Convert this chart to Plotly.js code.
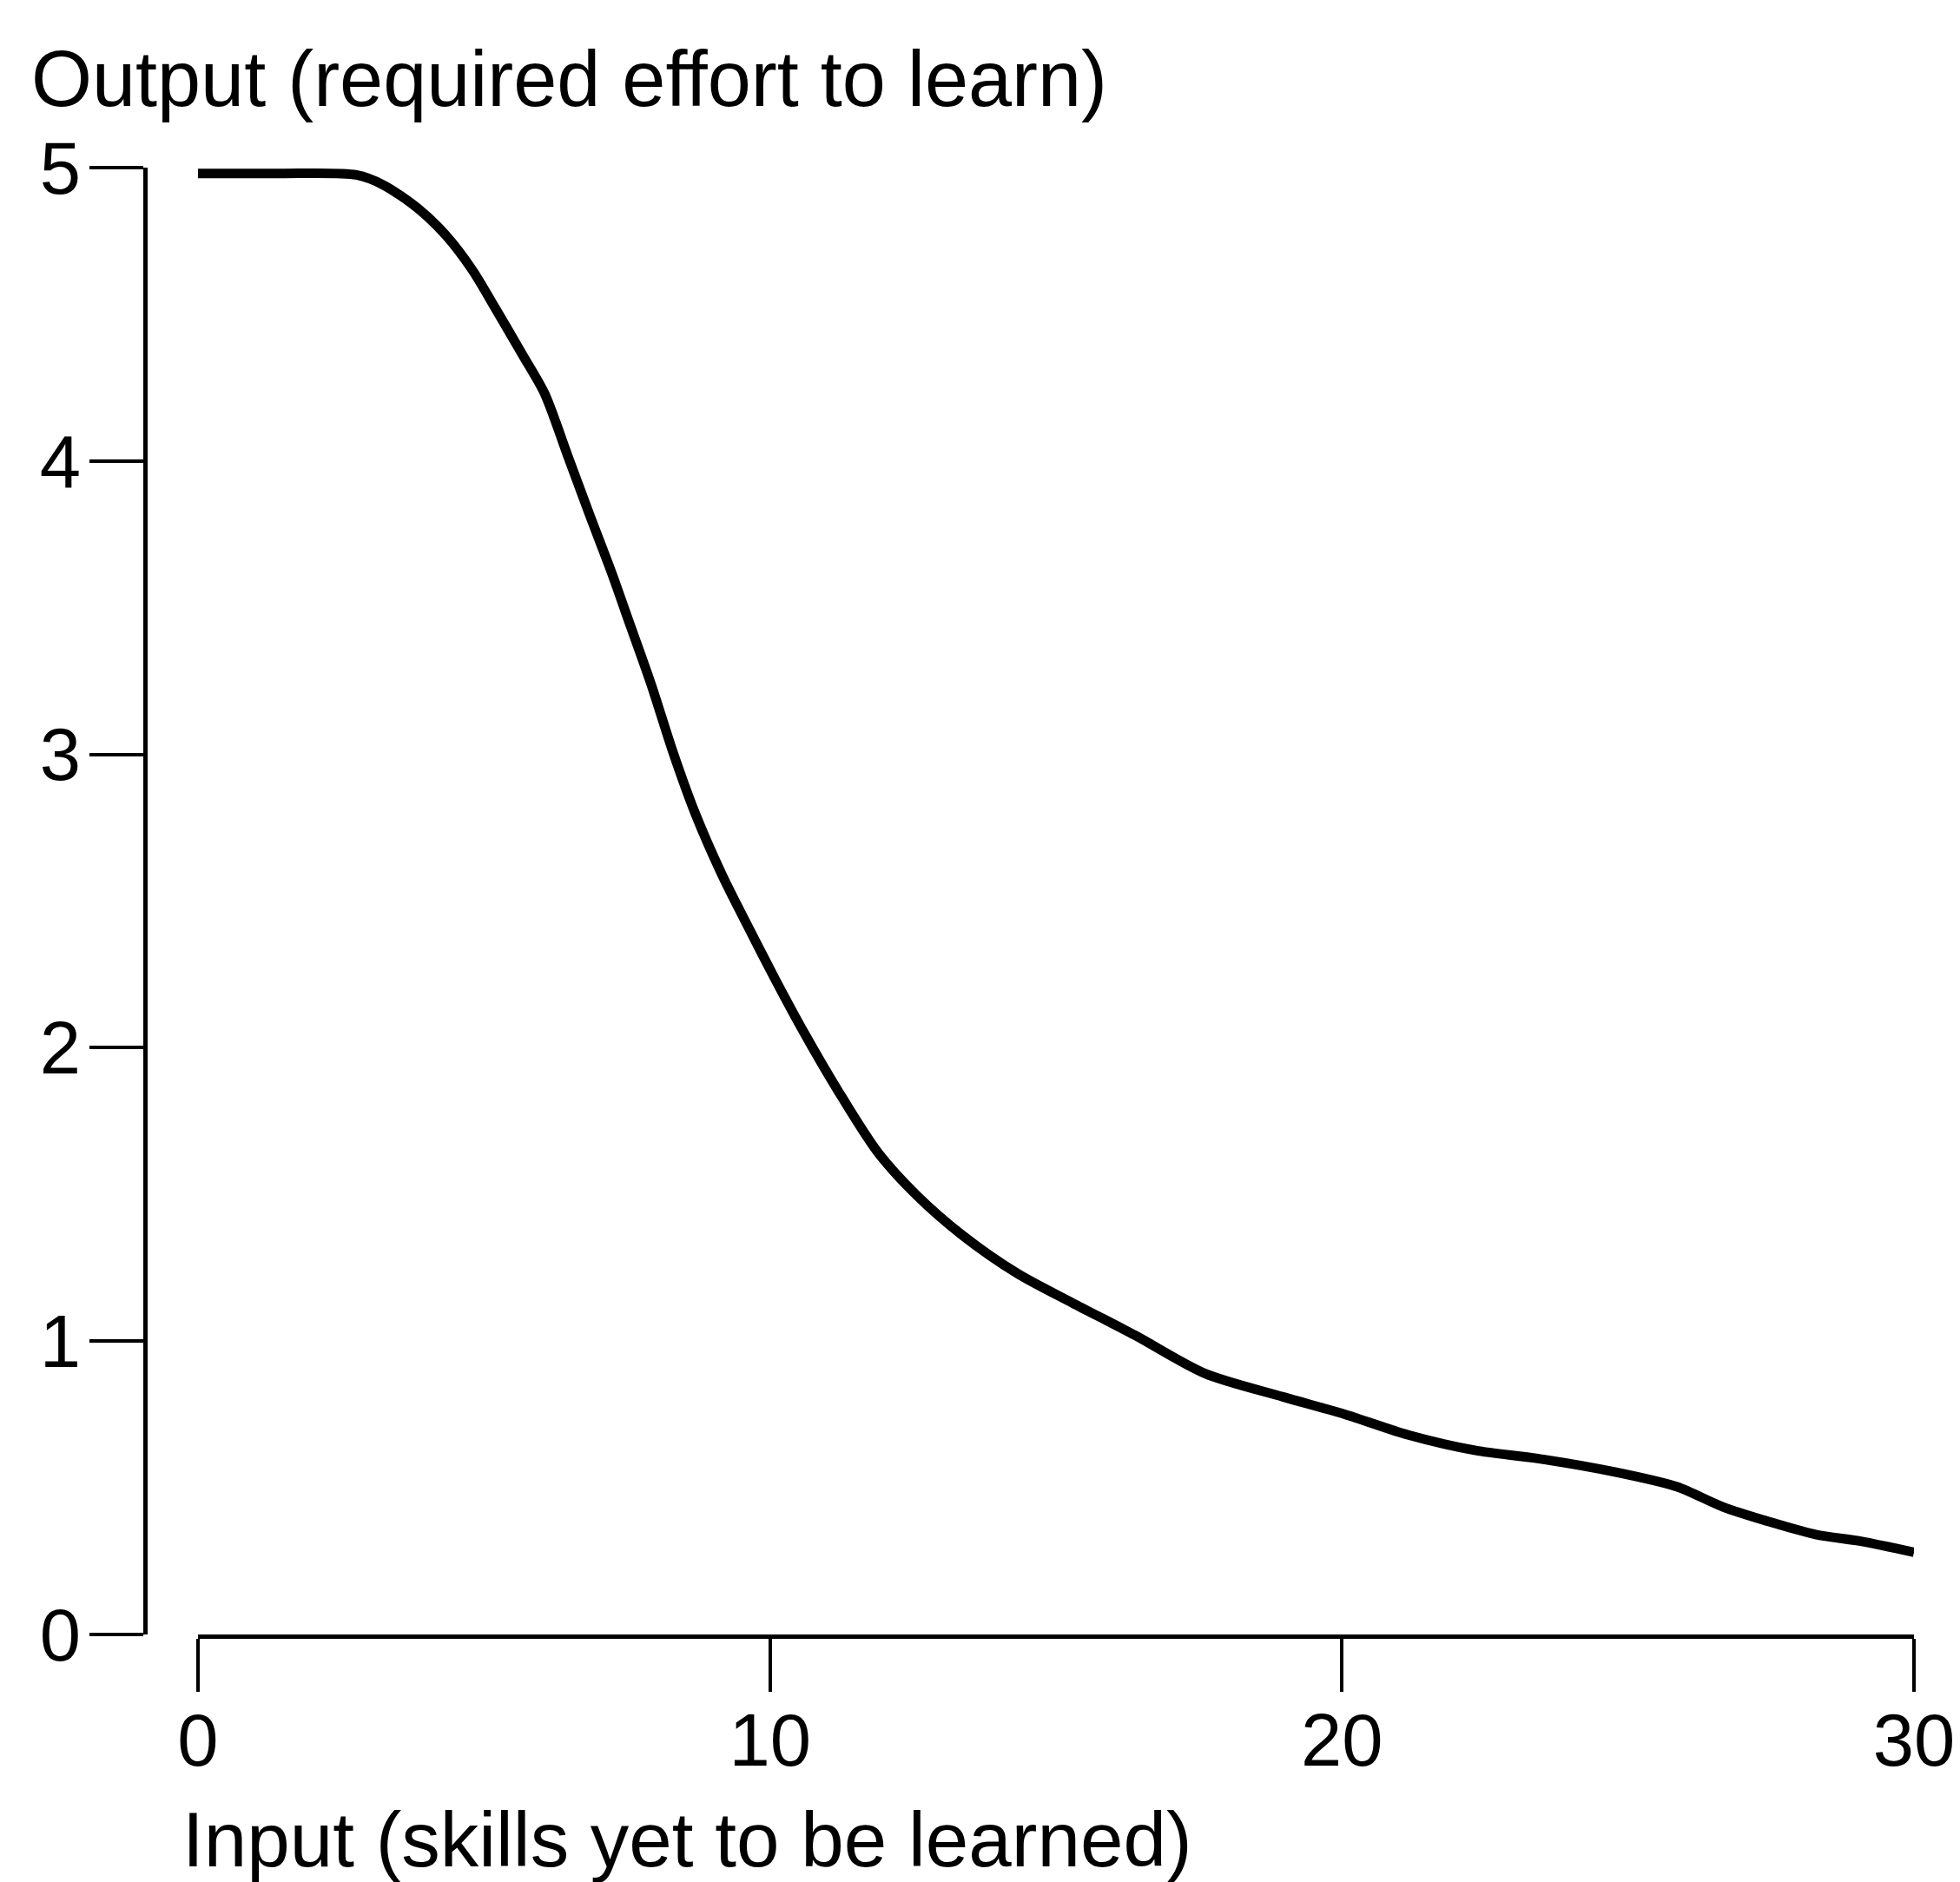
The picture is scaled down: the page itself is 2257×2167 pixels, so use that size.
<!DOCTYPE html>
<html>
<head>
<meta charset="utf-8">
<script src="https://cdn.plot.ly/plotly-3.0.1.min.js"></script>
<style>html,body{margin:0;padding:0;background:#fff;}#chart{width:2257px;height:2167px;}</style>
</head>
<body>
<div id="chart"></div>
<script>
// Data
const skillsYetToLearn = [0, 1.4, 2.77, 3.25, 3.85, 4.33, 4.80, 5.20, 5.68, 6.06, 6.46, 6.84, 7.23, 7.52, 7.92, 8.30, 8.69, 9.16, 9.65, 10.1, 10.6, 11.2, 11.88, 12.55, 13.37, 14.33, 15.29, 16.38, 17.6, 18.97, 20.06, 21.16, 22.34, 23.42, 24.77, 25.85, 26.66, 27.46, 28.28, 29.09, 30];
const requiredEffort = [4.98, 4.98, 4.975, 4.94, 4.86, 4.77, 4.65, 4.52, 4.36, 4.23, 4.02, 3.82, 3.62, 3.46, 3.24, 3.01, 2.80, 2.59, 2.40, 2.23, 2.05, 1.85, 1.645, 1.50, 1.36, 1.23, 1.13, 1.02, 0.89, 0.81, 0.75, 0.68, 0.627, 0.60, 0.554, 0.504, 0.435, 0.385, 0.341, 0.317, 0.28];
const xTickValues = [0, 10, 20, 30];
const yTickValues = [0, 1, 2, 3, 4, 5];
const titleText = "Output (required effort to learn)";
const xTitleText = "Input (skills yet to be learned)";

const W = 2257, H = 2167;
const fontFam = "Liberation Sans, Arial, Helvetica, sans-serif";

const trace = {
  x: skillsYetToLearn,
  y: requiredEffort,
  type: "scatter",
  mode: "lines",
  line: {color: "#000", width: 11, shape: "spline", smoothing: 0.8},
  hoverinfo: "skip"
};

const layout = {
  width: W,
  height: H,
  margin: {l: 0, r: 0, t: 0, b: 0, pad: 0},
  paper_bgcolor: "#fff",
  plot_bgcolor: "#fff",
  showlegend: false,
  font: {family: fontFam, color: "#000", size: 85},
  title: {
    text: titleText,
    font: {family: fontFam, size: 90, color: "#000"},
    xref: "container", yref: "container",
    x: 36 / W, xanchor: "left",
    y: 1 - 122 / H, yanchor: "bottom"
  },
  xaxis: {
    domain: [228 / W, 2204 / W],
    range: [0, 30],
    tickvals: xTickValues,
    ticktext: xTickValues.map(String),
    ticks: "outside",
    ticklen: 61,
    tickwidth: 4,
    tickcolor: "#000",
    ticklabelstandoff: -17,
    showline: true,
    linewidth: 5,
    linecolor: "#000",
    showgrid: false,
    zeroline: false,
    tickfont: {family: fontFam, size: 85, color: "#000"},
    anchor: "y",
    fixedrange: true
  },
  yaxis: {
    domain: [(H - 1882) / H, (H - 193) / H],
    range: [0, 5],
    tickvals: yTickValues,
    ticktext: yTickValues.map(String),
    ticks: "outside",
    ticklen: 62,
    tickwidth: 4,
    tickcolor: "#000",
    ticklabelstandoff: -7,
    showline: true,
    linewidth: 5,
    linecolor: "#000",
    showgrid: false,
    zeroline: false,
    tickfont: {family: fontFam, size: 85, color: "#000"},
    anchor: "free",
    position: 167 / W,
    fixedrange: true
  },
  annotations: [{
    text: xTitleText,
    xref: "paper", yref: "paper",
    x: 208 / W, xanchor: "left",
    y: (H - 2170) / H, yanchor: "bottom",
    showarrow: false,
    font: {family: fontFam, size: 89, color: "#000"}
  }]
};

Plotly.newPlot("chart", [trace], layout, {displayModeBar: false, staticPlot: true});
</script>
</body>
</html>
